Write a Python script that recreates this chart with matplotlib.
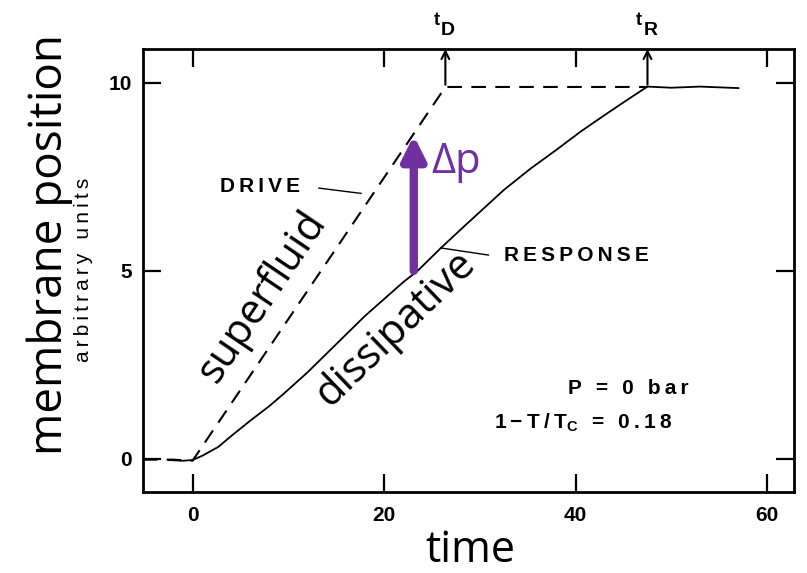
import matplotlib.pyplot as plt
import numpy as np

# membrane position vs time
drive_t = [-5.2, -2.0, 0.0, 26.4, 47.5]
drive_y = [-0.02, -0.02, -0.05, 9.89, 9.89]

resp_t = [-2.5, -1.0, 0.0, 1.0, 2.7, 4.0, 6.1, 8.0, 9.6, 12.0, 14.0, 16.0, 18.0, 20.0,
          22.0, 23.5, 25.9, 28.0, 30.1, 32.5, 35.3, 38.0, 40.5, 42.5, 44.7, 46.3,
          47.5, 50.0, 53.0, 57.0]
resp_y = [-0.03, -0.05, -0.03, 0.08, 0.32, 0.6, 1.03, 1.4, 1.75, 2.3, 2.8, 3.3, 3.8, 4.25,
          4.7, 5.0, 5.6, 6.1, 6.59, 7.15, 7.72, 8.22, 8.7, 9.05, 9.43, 9.7,
          9.9, 9.87, 9.9, 9.86]

x_ticks = [0, 20, 40, 60]
y_ticks = [0, 5, 10]
t_D = 26.4
t_R = 47.5
dp_t = 23.1
dp_y0, dp_y1 = 5.0, 8.6

TS = '\u2009'  # thin space, used as letter spacing like the typewriter lettering


def spaced(s):
    return TS.join(s)


plt.rcParams['mathtext.fontset'] = 'custom'
plt.rcParams['mathtext.rm'] = 'Liberation Sans:bold'
plt.rcParams['mathtext.it'] = 'Liberation Sans:bold'
plt.rcParams['mathtext.bf'] = 'Liberation Sans:bold'

fig = plt.figure(figsize=(8.07, 5.73), dpi=100)
ax = fig.add_axes([0.1772, 0.1414, 0.8067, 0.7731])

ax.plot(drive_t, drive_y, color='black', lw=1.5, dashes=(7, 4.5))
ax.plot(resp_t, resp_y, color='black', lw=1.3)

ax.set_xlim(-5.17, 62.8)
ax.set_ylim(-0.88, 10.9)
ax.set_xticks(x_ticks)
ax.set_yticks(y_ticks)
ax.tick_params(direction='in', length=13, width=1.6, top=True, right=True, labelsize=15)
ax.tick_params(axis='x', pad=10)
ax.tick_params(axis='y', pad=8)
for lab in ax.get_xticklabels() + ax.get_yticklabels():
    lab.set_fontfamily('Liberation Sans')
    lab.set_fontweight('bold')
for s in ax.spines.values():
    s.set_linewidth(2.0)

big = dict(family='Open Sans', color='black')
fig.text(470 / 807, 1 - 562 / 573, 'time', ha='center', va='baseline', fontsize=31, **big)
fig.text(0.062, 0.574, 'membrane position', rotation=90, ha='center', va='center',
         fontsize=33, **big)
fig.text(0.103, 0.529, spaced('arbitrary units'), rotation=90, ha='center', va='center',
         fontsize=15, family=['Liberation Sans', 'DejaVu Sans'])

small = dict(family=['Liberation Sans', 'DejaVu Sans'], fontweight='bold', fontsize=15)

# t_D and t_R markers
for t, name in [(t_D, 'D'), (t_R, 'R')]:
    ax.annotate('', xy=(t, 10.9), xytext=(t, 9.95),
                arrowprops=dict(arrowstyle='->', lw=1.5, color='black',
                                mutation_scale=14, shrinkA=0, shrinkB=0),
                annotation_clip=False)
    ax.annotate('t', xy=(t, 10.9), xytext=(-4, 17), textcoords='offset points',
                ha='right', va='baseline', fontsize=13, family='Liberation Sans',
                fontweight='bold', annotation_clip=False)
    ax.annotate(name, xy=(t, 10.9), xytext=(-3, 10), textcoords='offset points',
                ha='left', va='baseline', fontsize=14, family='Liberation Sans',
                fontweight='bold', annotation_clip=False)

ax.text(7.0, 7.25, spaced('DRIVE'), ha='center', va='center', **small)
ax.plot([13.2, 17.6], [7.2, 7.06], color='black', lw=1.0)
ax.text(32.5, 5.42, spaced('RESPONSE'), ha='left', va='center', **small)
ax.plot([25.9, 30.9], [5.61, 5.42], color='black', lw=1.0)

ax.text(45.5, 1.88, spaced('P = 0 bar'), ha='center', va='center', **small)
ax.text(40.8, 0.95, spaced('1−T/T') + r'$_{\rm C}$' + TS + spaced(' = 0.18'),
        ha='center', va='center', **small)

# superfluid / dissipative labels
ax.text(7.3, 4.32, 'superfluid', rotation=56, ha='center', va='center',
        fontsize=30, **big)
ax.text(21.2, 3.47, 'dissipative', rotation=44, ha='center', va='center',
        fontsize=30, **big)

purple = '#7030A0'
ax.annotate('', xy=(dp_t, dp_y1), xytext=(dp_t, dp_y0),
            arrowprops=dict(arrowstyle='-|>,head_width=0.5,head_length=1.0',
                            lw=6, color=purple, mutation_scale=14,
                            shrinkA=0, shrinkB=0))
ax.text(24.9, 7.6, 'Δp', color=purple, fontsize=30, family='Open Sans',
        ha='left', va='baseline')

fig.savefig('out.png', dpi=100)
